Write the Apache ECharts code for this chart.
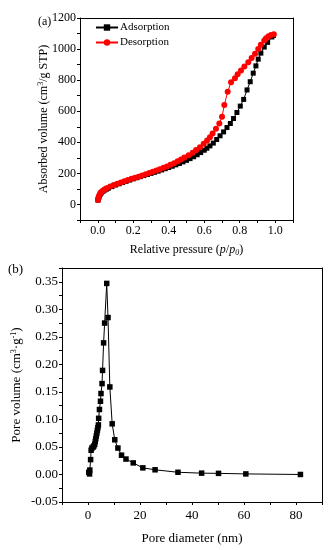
<!DOCTYPE html>
<html><head><meta charset="utf-8">
<script src="https://cdn.jsdelivr.net/npm/echarts@6/dist/echarts.min.js"></script>
<style>html,body{margin:0;padding:0;background:#fff}#c{width:335px;height:550px}</style>
</head><body><div id="c"></div>
<script>
// Panel (a): N2 adsorption-desorption isotherm
const adsP = [0.001,0.003,0.006,0.01,0.015,0.02,0.03,0.04,0.05,0.06,0.08,0.10,0.12,0.14,0.16,0.18,0.20,0.22,0.24,0.26,0.28,0.30,0.32,0.34,0.36,0.38,0.40,0.42,0.44,0.46,0.48,0.50,0.52,0.54,0.56,0.58,0.60,0.615,0.632,0.651,0.670,0.689,0.709,0.728,0.747,0.765,0.784,0.803,0.822,0.841,0.859,0.876,0.891,0.904,0.919,0.938,0.957,0.981,0.99];
const adsV = [28,34,45,57,67,75,85,93,99,105,115,125,133,141,149,157,165,172,179,186,193,200,207,214,222,230,238,246,255,264,274,284,295,307,320,334,349,362,377,395,418,442,467,495,521,553,592,633,676,737,790,845,892,935,974,1013,1043,1078,1088];
const desP = [0.992,0.976,0.962,0.948,0.938,0.919,0.904,0.886,0.867,0.848,0.826,0.807,0.788,0.773,0.751,0.732,0.713,0.700,0.685,0.666,0.647,0.632,0.616,0.597,0.576,0.554,0.535,0.512,0.488,0.469,0.45,0.43,0.41,0.39,0.37,0.35,0.33,0.31,0.29,0.27,0.25,0.23,0.21,0.19,0.17,0.15,0.13,0.11,0.09,0.07,0.05,0.04,0.03,0.02,0.015,0.01,0.006,0.003,0.001];
const desV = [1095,1090,1082,1069,1056,1028,1000,970,942,916,888,862,838,812,787,726,640,564,521,488,456,432,412,390,368,350,332,316,302,290,278,266,255,245,236,227,218,210,202,194,186,179,172,165,158,150,142,134,125,115,104,98,90,80,73,63,51,39,29];

// Panel (b): pore size distribution
const poreD = [0.3,0.6,0.7,1.0,1.2,1.5,2.0,2.3,2.6,2.8,3.0,3.2,3.4,3.6,3.8,4.0,4.1,4.4,4.8,5.0,5.4,5.6,6.0,6.4,7.2,7.7,8.4,9.3,10.3,11.5,12.9,14.6,17.4,21.1,25.8,34.6,43.7,50.2,60.7,81.7];
const poreV = [0.004,0.001,0.008,0.027,0.044,0.048,0.050,0.052,0.055,0.060,0.065,0.070,0.075,0.080,0.085,0.090,0.102,0.118,0.133,0.147,0.165,0.189,0.239,0.275,0.347,0.285,0.159,0.092,0.063,0.048,0.035,0.028,0.021,0.012,0.0085,0.004,0.0024,0.002,0.001,0.000];

const xTicksA = [0.0,0.2,0.4,0.6,0.8,1.0];
const yTicksA = [0,200,400,600,800,1000,1200];
const xTicksB = [0,20,40,60,80];
const yTicksB = [-0.05,0.00,0.05,0.10,0.15,0.20,0.25,0.30,0.35];

const FONT = 'Liberation Serif';
const near = (v, arr) => arr.some(t => Math.abs(t - v) < 1e-6);
const axisLine = {show:true, onZero:false, lineStyle:{color:'#000', width:1}};
const tick = {show:true, inside:false, length:3, lineStyle:{color:'#000'}};
const lbl = (arr, dec, fs, mg) => ({color:'#000', fontFamily:FONT, fontSize:fs, margin:mg,
  formatter: v => near(v, arr) ? v.toFixed(dec) : ''});
const frameAxis = (gi, pos) => ({type:'value', gridIndex:gi, position:pos, axisLine:axisLine, axisTick:{show:false}, axisLabel:{show:false}, splitLine:{show:false}});

const chart = echarts.init(document.getElementById('c'), null, {renderer:'canvas'});
chart.setOption({
  animation:false,
  backgroundColor:'#fff',
  textStyle:{fontFamily:FONT},
  title:[
    {text:'(a)', left:38, top:16, padding:0, textStyle:{fontFamily:FONT, fontSize:12, fontWeight:'normal', color:'#000'}},
    {text:'(b)', left:8, top:263, padding:0, textStyle:{fontFamily:FONT, fontSize:13, fontWeight:'normal', color:'#000'}}
  ],
  legend:{
    left:95, top:22, padding:0, orient:'vertical', itemWidth:22, itemHeight:8, itemGap:4,
    textStyle:{fontFamily:FONT, fontSize:11, color:'#000', padding:[0,0,0,-3]},
    data:['Adsorption','Desorption']
  },
  grid:[
    {left:80, top:18, width:213, height:202},
    {left:62, top:268, width:260, height:234}
  ],
  xAxis:[
    {type:'value', gridIndex:0, min:-0.1, max:1.1, interval:0.1,
     axisLine:axisLine, axisTick:tick, axisLabel:lbl(xTicksA,1,12,5), splitLine:{show:false},
     name:'{n|Relative pressure (}{i|p}{n|/}{i|p}{s|0}{n|)}', nameLocation:'middle', nameGap:23, nameMoveOverlap:false,
     nameTextStyle:{rich:{n:{fontFamily:FONT,fontSize:12,color:'#000'}, i:{fontFamily:FONT,fontSize:12,fontStyle:'italic',color:'#000'}, s:{fontFamily:FONT,fontSize:8,fontStyle:'italic',color:'#000',verticalAlign:'bottom',padding:[6,0,0,0]}}}},
    {type:'value', gridIndex:1, min:-10, max:90, interval:10,
     axisLine:axisLine, axisTick:tick, axisLabel:lbl(xTicksB,0,13,7), splitLine:{show:false},
     name:'Pore diameter (nm)', nameLocation:'middle', nameGap:30, nameMoveOverlap:false,
     nameTextStyle:{fontFamily:FONT, fontSize:13, color:'#000'}},
    Object.assign(frameAxis(0,'top'), {min:-0.1, max:1.1}),
    Object.assign(frameAxis(1,'top'), {min:-10, max:90})
  ],
  yAxis:[
    {type:'value', gridIndex:0, min:-100, max:1200, interval:100,
     axisLine:axisLine, axisTick:tick, axisLabel:lbl(yTicksA,0,12,4), splitLine:{show:false},
     name:'{n|Absorbed volume (cm}{s|3}{n|/g STP)}', nameLocation:'middle', nameGap:29, nameMoveOverlap:false,
     nameTextStyle:{rich:{n:{fontFamily:FONT,fontSize:12,color:'#000'}, s:{fontFamily:FONT,fontSize:8,color:'#000',verticalAlign:'top',padding:[0,0,6,0]}}}},
    {type:'value', gridIndex:1, min:-0.05, max:0.375, interval:0.025,
     axisLine:axisLine, axisTick:tick, axisLabel:lbl(yTicksB,2,13,4), splitLine:{show:false},
     name:'{n|Pore volume (cm}{s|3}{n|·g}{s|-1}{n|)}', nameLocation:'middle', nameGap:38, nameMoveOverlap:false,
     nameTextStyle:{rich:{n:{fontFamily:FONT,fontSize:13,color:'#000'}, s:{fontFamily:FONT,fontSize:8,color:'#000',verticalAlign:'top',padding:[0,0,6,0]}}}},
    Object.assign(frameAxis(0,'right'), {min:-100, max:1200}),
    Object.assign(frameAxis(1,'right'), {min:-0.05, max:0.375})
  ],
  series:[
    {name:'Adsorption', type:'line', xAxisIndex:0, yAxisIndex:0,
     data: adsP.map((p,i)=>[p, adsV[i]]), symbol:'rect', symbolSize:5,
     itemStyle:{color:'#000'}, lineStyle:{color:'#000', width:1}},
    {name:'Desorption', type:'line', xAxisIndex:0, yAxisIndex:0,
     data: desP.map((p,i)=>[p, desV[i]]), symbol:'circle', symbolSize:6,
     itemStyle:{color:'#ff0000'}, lineStyle:{color:'#ff0000', width:1}},
    {name:'PSD', type:'line', xAxisIndex:1, yAxisIndex:1,
     data: poreD.map((d,i)=>[d, poreV[i]]), symbol:'rect', symbolSize:5.5,
     itemStyle:{color:'#000'}, lineStyle:{color:'#000', width:1}}
  ]
});
</script></body></html>
